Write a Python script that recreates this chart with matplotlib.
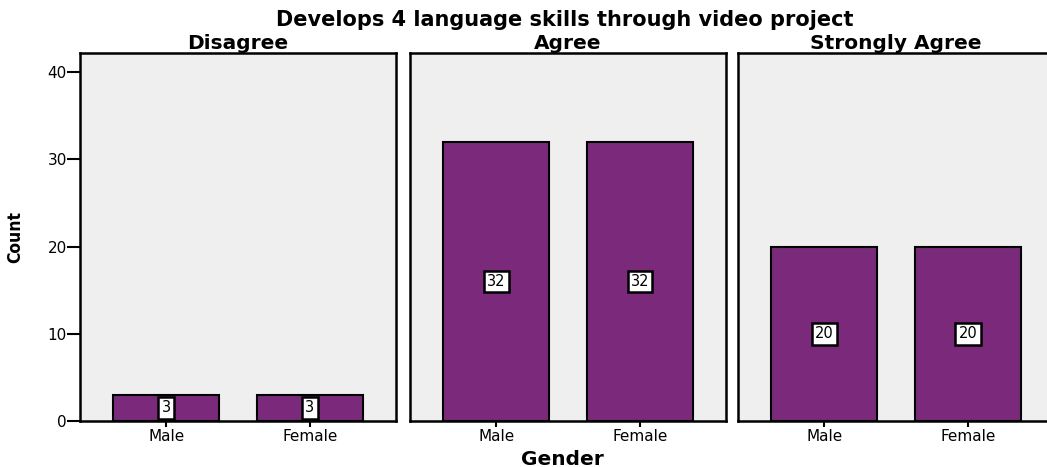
import matplotlib.pyplot as plt

# Data
panels = ['Disagree', 'Agree', 'Strongly Agree']
genders = ['Male', 'Female']
counts = {
    'Disagree': [3, 3],
    'Agree': [32, 32],
    'Strongly Agree': [20, 20],
}
y_ticks = [0, 10, 20, 30, 40]

bar_color = '#7b2a7b'
bg_color = '#efefef'

fig = plt.figure(figsize=(10.47, 4.67), dpi=100)

# panel positions in figure fractions (left, bottom, width, height)
lefts = [0.0764, 0.3916, 0.7049]
width = 0.302
bottom = 0.0985
height = 0.788

for i, name in enumerate(panels):
    ax = fig.add_axes([lefts[i], bottom, width, height])
    ax.set_facecolor(bg_color)
    x = list(range(len(genders)))
    ax.bar(x, counts[name], width=0.74, color=bar_color,
           edgecolor='black', linewidth=1.5, zorder=2)
    for xi, v in zip(x, counts[name]):
        ax.text(xi, v / 2, str(v), ha='center', va='center', fontsize=10.5,
                zorder=3,
                bbox=dict(boxstyle='square,pad=0.22', facecolor='white',
                          edgecolor='black', linewidth=1.8))
    ax.set_xlim(-0.6, 1.6)
    ax.set_ylim(0, 42.2)
    ax.set_xticks(x)
    ax.set_xticklabels(genders, fontsize=11)
    ax.tick_params(axis='x', length=4.5, width=1.5, pad=1)
    for s in ax.spines.values():
        s.set_linewidth(1.8)
    if i == 0:
        ax.set_yticks(y_ticks)
        ax.tick_params(axis='y', length=9.5, width=1.5, labelsize=11, pad=0)
        ax.set_ylabel('Count', fontsize=12.5, fontweight='bold',
                      fontstretch='condensed',
                      family=['Liberation Sans Narrow', 'DejaVu Sans Condensed',
                              'DejaVu Sans'], labelpad=17)
    else:
        ax.set_yticks([])
    ax.set_title(name, fontsize=14.5, fontweight='bold', pad=1)

fig.text(0.539, 0.957, 'Develops 4 language skills through video project',
         ha='center', va='center', fontsize=15, fontweight='bold')
fig.text(0.537, 0.017, 'Gender', ha='center', va='center',
         fontsize=14.5, fontweight='bold')

fig.savefig('out.png', dpi=100)
